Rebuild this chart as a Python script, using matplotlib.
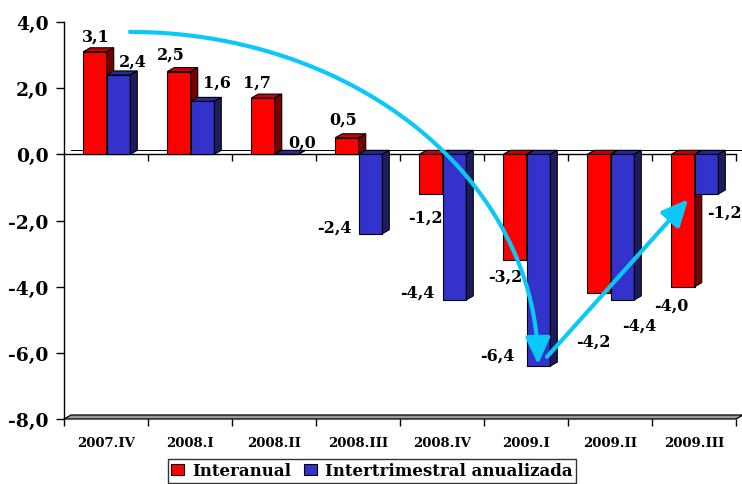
import numpy as np
import matplotlib
matplotlib.use("Agg")
import matplotlib.pyplot as plt
from matplotlib.patches import Polygon, Patch, FancyArrowPatch, ArrowStyle
from matplotlib.path import Path

# ---- data ----
categories = ["2007.IV", "2008.I", "2008.II", "2008.III",
              "2008.IV", "2009.I", "2009.II", "2009.III"]
interanual = [3.1, 2.5, 1.7, 0.5, -1.2, -3.2, -4.2, -4.0]
intertrimestral = [2.4, 1.6, 0.0, -2.4, -4.4, -6.4, -4.4, -1.2]
series_names = ["Interanual", "Intertrimestral anualizada"]
y_ticks = [4, 2, 0, -2, -4, -6, -8]

# label offsets in pixels (dx, dy), relative to the bar end
red_label_off = [(1, 16), (-8, 18), (-6, 16), (-4, 19),
                 (-6, -23), (-10, -16), (-6, -48), (-12, -18)]
blue_label_off = [(14, 14), (14, 19), (16, 12), (-36, 7),
                  (-37, 8), (-41, 11), (17, -25), (18, -18)]

SERIF = "DejaVu Serif"
plt.rcParams["font.family"] = SERIF
plt.rcParams["font.weight"] = "bold"

W, H = 742, 485
fig = plt.figure(figsize=(W / 100, H / 100), dpi=100)
ax = fig.add_axes([64 / W, 1 - 420 / H, (W - 64) / W, 397 / H])
ax.set_xlim(-0.5, 7.571)
ax.set_ylim(-8, 4)

# 3D depth offset, in data units
DX, DY = 0.083, 0.121
bw = 0.28
x = np.arange(len(categories))

red_front, red_top, red_side = "#FF0000", "#CC0000", "#7A0000"
blue_front, blue_top, blue_side = "#3333CC", "#28289A", "#1C1C60"

# floor at the bottom
floor = Polygon([(-0.5, -8), (7.5, -8), (7.5 + DX, -8 + DY), (-0.5 + DX, -8 + DY)],
                closed=True, facecolor="#999999", edgecolor="black", lw=0.9,
                clip_on=False, zorder=1)
ax.add_patch(floor)

# zero line (front and back edge) with ticks at the category boundaries
ax.plot([-0.5, 7.5], [0, 0], color="black", lw=1.0, zorder=1.5, clip_on=False)
ax.plot([-0.5 + DX, 7.571], [DY, DY], color="black", lw=0.7, zorder=1.4, clip_on=False)
ax.vlines(np.arange(0.5, 8.0, 1.0), -0.21, 0, color="black", lw=1.0, zorder=1.5)


def draw_3d(bars, front, top, side, z):
    for b in bars:
        x0 = b.get_x()
        x1 = x0 + b.get_width()
        y0 = b.get_y()
        v = y0 + b.get_height()
        lo, hi = min(y0, v), max(y0, v)
        b.set_facecolor(front)
        b.set_edgecolor("black")
        b.set_linewidth(0.8)
        b.set_zorder(z)
        tp = Polygon([(x0, hi), (x1, hi), (x1 + DX, hi + DY), (x0 + DX, hi + DY)],
                     closed=True, facecolor=top, edgecolor="black", lw=0.8, zorder=z)
        sd = Polygon([(x1, lo), (x1, hi), (x1 + DX, hi + DY), (x1 + DX, lo + DY)],
                     closed=True, facecolor=side, edgecolor="black", lw=0.8, zorder=z)
        ax.add_patch(tp)
        ax.add_patch(sd)


red_bars = ax.bar(x - 0.131, interanual, width=bw)
draw_3d(red_bars, red_front, red_top, red_side, 2)
blue_bars = ax.bar(x + 0.149, intertrimestral, width=bw)
draw_3d(blue_bars, blue_front, blue_top, blue_side, 3)


def fmt(v):
    return f"{v:.1f}".replace(".", ",")


for bars, vals, offs in ((red_bars, interanual, red_label_off),
                         (blue_bars, intertrimestral, blue_label_off)):
    for b, v, (odx, ody) in zip(bars, vals, offs):
        cx = b.get_x() + b.get_width() / 2
        ax.annotate(fmt(v), xy=(cx, v), xytext=(odx, ody),
                    textcoords="offset pixels", ha="center", va="center",
                    fontsize=11.5, fontweight="bold", zorder=6)

# axes styling
for s in ("top", "right", "bottom"):
    ax.spines[s].set_visible(False)
ax.spines["left"].set_linewidth(1.0)
ax.set_yticks(y_ticks)
ax.set_yticklabels([fmt(t) for t in y_ticks], fontsize=13.5, fontweight="bold")
ax.tick_params(axis="y", length=6, width=1.0, pad=5)
ax.set_xticks(x)
ax.set_xticklabels(categories, fontsize=9.5, fontweight="bold")
ax.set_xticks(np.arange(-0.5, 8.0, 1.0), minor=True)
ax.tick_params(axis="x", which="major", length=0, pad=12)
ax.tick_params(axis="x", which="minor", length=5, width=1.0)

# arrows
cyan = "#0BC8F8"
cx_e, cy_e = 0.286, -6.34
rx_e, ry_e = 4.857, 10.04
theta = np.linspace(np.pi / 2, 0.0, 120)
pts = np.column_stack([cx_e + rx_e * np.cos(theta), cy_e + ry_e * np.sin(theta)])
style = ArrowStyle("-|>", head_length=1.6, head_width=0.75)
curve = FancyArrowPatch(path=Path(pts), arrowstyle=style, mutation_scale=10,
                        color=cyan, lw=3.0, zorder=8, clip_on=False)
ax.add_patch(curve)
ax.annotate("", xy=(6.93, -1.36), xytext=(5.25, -6.12),
            arrowprops=dict(arrowstyle=style, mutation_scale=10, color=cyan,
                            lw=3.0, shrinkA=0, shrinkB=0), zorder=8)

# legend
handles = [Patch(facecolor=red_front, edgecolor="black", lw=0.8),
           Patch(facecolor=blue_front, edgecolor="black", lw=0.8)]
leg = fig.legend(handles, series_names, loc="upper center",
                 bbox_to_anchor=(0.501, 1 - 460 / H), ncol=2, frameon=True,
                 fancybox=False, shadow=False,
                 prop={"family": SERIF, "weight": "bold", "size": 12},
                 handlelength=0.8, handleheight=0.6, handletextpad=0.45,
                 columnspacing=0.8, borderpad=0.2, borderaxespad=0)
leg.get_frame().set_edgecolor("black")
leg.get_frame().set_linewidth(1.0)

fig.savefig("out.png", dpi=100)
